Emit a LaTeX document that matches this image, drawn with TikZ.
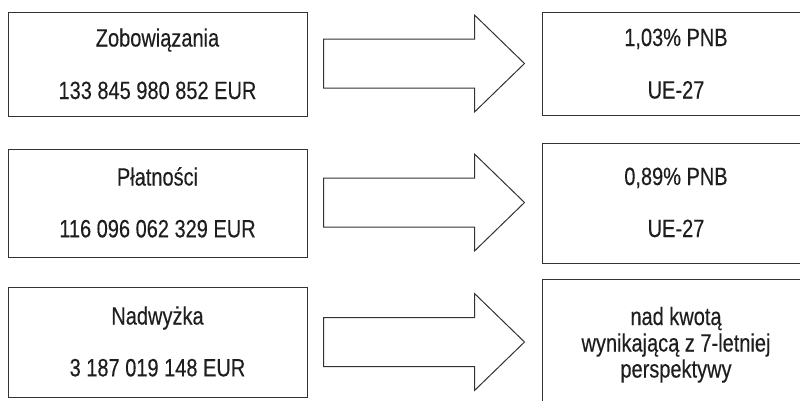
\documentclass[tikz,border=0pt]{standalone}
\usepackage{fontspec}
\setmainfont{Liberation Sans}[FakeStretch=0.8]
\newfontfamily\lblfont{Liberation Sans}[FakeStretch=0.8,FakeBold=0.3]
\usetikzlibrary{calc}
\definecolor{ln}{HTML}{333333}
\definecolor{tx}{HTML}{1E1E1E}
\tikzset{
  box/.style={draw=ln, line width=1pt, minimum width=299pt, minimum height=#1, inner sep=0pt},
  rbox/.style={draw=ln, line width=1pt, minimum width=268pt, minimum height=#1, inner sep=0pt},
  lbl/.style={anchor=base, text=tx, inner sep=0pt, font=\lblfont\fontsize{25}{26}\selectfont, align=center},
  bigarrow/.style={draw=ln, line width=1pt, line join=miter, fill=white}
}
\begin{document}
\begin{tikzpicture}[x=1pt,y=-1pt]
\useasboundingbox (0,0) rectangle (800,400);
\clip (0,0) rectangle (800,400);
% left boxes
\node[box=104pt] (L1) at (157.5,64) {};
\node[box=108pt] (L2) at (157.5,203) {};
\node[box=110pt] (L3) at (157.5,342) {};
% right boxes
\node[rbox=103pt] (R1) at (676,63.5) {};
\node[rbox=120pt] (R2) at (676,203) {};
\node[rbox=128pt] (R3) at (676,343) {};
% texts
\node[lbl] (t1a) at ($(L1.center)+(0,-17.5)$) {Zobowiązania};
\node[lbl] (t1b) at ($(L1.center)+(0,35)$) {133 845 980 852 EUR};
\node[lbl] (t2a) at ($(L2.center)+(0,-17.5)$) {Płatności};
\node[lbl] (t2b) at ($(L2.center)+(0,34.3)$) {116 096 062 329 EUR};
\node[lbl] (t3a) at ($(L3.center)+(0,-17.5)$) {Nadwyżka};
\node[lbl] (t3b) at ($(L3.center)+(0,34.3)$) {3 187 019 148 EUR};
\node[lbl] (r1a) at ($(R1.center)+(0,-17.5)$) {1,03\% PNB};
\node[lbl] (r1b) at ($(R1.center)+(0,35)$) {UE-27};
\node[lbl] (r2a) at ($(R2.center)+(0,-18)$) {0,89\% PNB};
\node[lbl] (r2b) at ($(R2.center)+(0,34)$) {UE-27};
\node[lbl] (r3a) at ($(R3.center)+(0,-18)$) {nad kwotą};
\node[lbl] (r3b) at ($(R3.center)+(0,8.5)$) {wynikającą z 7-letniej};
\node[lbl] (r3c) at ($(R3.center)+(0,34.5)$) {perspektywy};
% arrows
\coordinate (a1) at ($(L1.east)+(16,-0.5)$);
\coordinate (a2) at ($(L2.east)+(16,-0.5)$);
\coordinate (a3) at ($(L3.east)+(16,0)$);
\foreach \a in {a1,a2,a3}{
  \draw[bigarrow] (\a) ++(0,-24.5) -- ++(151,0) -- ++(0,-24) -- ++(50,48.5)
    -- ++(-50,48.5) -- ++(0,-24) -- ++(-151,0) -- cycle;
}
\end{tikzpicture}
\end{document}
